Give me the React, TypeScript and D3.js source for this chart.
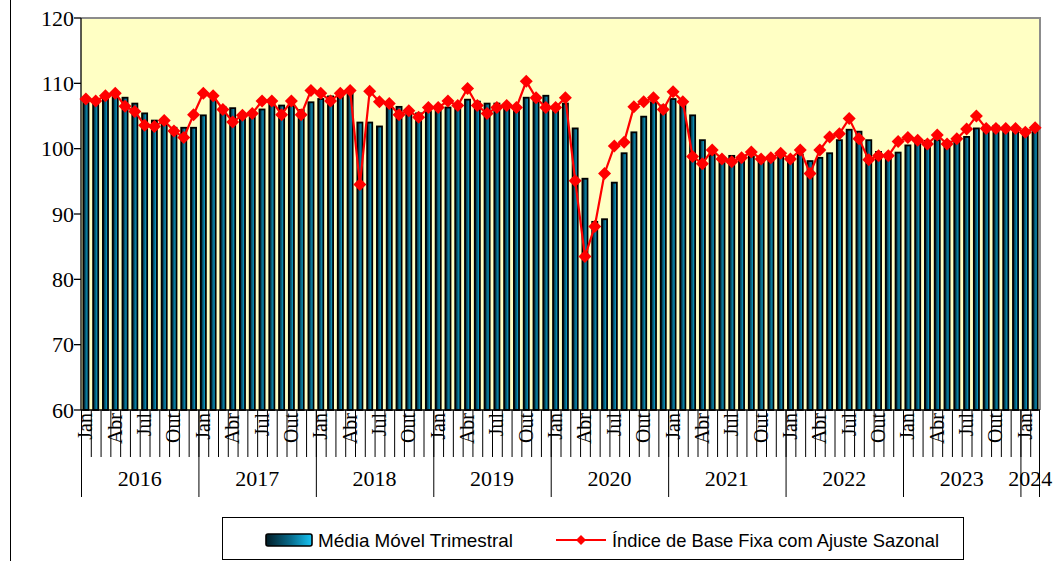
import React from 'react'
import * as d3 from 'd3'

const years = ['2016', '2017', '2018', '2019', '2020', '2021', '2022', '2023', '2024']
const monthNames = ['Jan', 'Fev', 'Mar', 'Abr', 'Mai', 'Jun', 'Jul', 'Ago', 'Set', 'Out', 'Nov', 'Dez']
const shownMonths = ['Jan', 'Abr', 'Jul', 'Out']
const yTicks = [60, 70, 80, 90, 100, 110, 120]

// Média Móvel Trimestral (barras)
const mediaMovel = [
  107.3, 107.0, 107.6, 108.0, 107.8, 106.9, 105.4, 104.3, 103.8, 103.2, 103.2, 103.2,
  105.1, 107.5, 106.4, 106.2, 105.1, 105.0, 106.0, 106.8, 106.6, 106.6, 105.9, 107.1,
  107.6, 108.0, 108.1, 108.5, 104.0, 104.0, 103.4, 106.4, 106.4, 106.0, 105.4, 105.7,
  106.0, 106.3, 106.4, 107.5, 107.2, 106.9, 106.9, 106.8, 106.2, 107.8, 107.4, 108.1,
  106.4, 106.9, 103.1, 95.4, 88.8, 89.2, 94.8, 99.3, 102.5, 104.9, 107.1, 106.6,
  107.6, 107.0, 105.1, 101.3, 99.1, 98.4, 98.9, 98.6, 98.8, 98.5, 98.6, 98.8,
  98.7, 99.1, 98.1, 98.6, 99.3, 101.3, 102.9, 102.6, 101.3, 99.5, 98.7, 99.4,
  100.5, 101.3, 101.2, 101.3, 101.1, 101.4, 101.8, 103.1, 103.4, 103.5, 103.1, 103.1,
  102.9, 102.9,
]

// Índice de Base Fixa com Ajuste Sazonal (linha)
const indiceAjustado = [
  107.6, 107.3, 108.1, 108.5, 106.5, 105.7, 103.6, 103.4, 104.3, 102.7, 101.7, 105.2,
  108.5, 108.1, 106.0, 104.1, 105.1, 105.4, 107.3, 107.3, 105.2, 107.3, 105.2, 108.9,
  108.5, 107.3, 108.5, 108.9, 94.5, 108.8, 107.2, 106.9, 105.2, 105.8, 104.8, 106.3,
  106.3, 107.3, 106.6, 109.2, 106.6, 105.4, 106.3, 106.6, 106.3, 110.3, 107.8, 106.3,
  106.3, 107.8, 95.1, 83.5, 88.1, 96.2, 100.4, 101.0, 106.4, 107.2, 107.8, 106.0,
  108.7, 107.2, 98.8, 97.7, 99.8, 98.4, 98.0, 98.6, 99.5, 98.4, 98.6, 99.3,
  98.4, 99.8, 96.2, 99.8, 101.8, 102.3, 104.6, 101.5, 98.3, 98.9, 98.9, 101.1,
  101.7, 101.3, 100.7, 102.1, 100.7, 101.5, 103.0, 105.0, 103.1, 103.1, 103.1, 103.1,
  102.5, 103.2,
]

const categories = mediaMovel.map((_, i) => ({
  key: `${years[Math.floor(i / 12)]}-${i % 12}`,
  year: years[Math.floor(i / 12)],
  month: monthNames[i % 12],
}))

const serif = '"Liberation Serif", "DejaVu Serif", serif'
const narrow = '"Liberation Sans Narrow", "Liberation Sans", Arial, sans-serif'

const App = () => {
  const width = 1055
  const height = 561
  const left = 81
  const right = 1040
  const top = 18
  const bottom = 410

  const x = d3
    .scaleBand()
    .domain(categories.map((c) => c.key))
    .range([left, right])
    .paddingInner(0)
    .paddingOuter(0)
  const bw = x.bandwidth()
  const y = d3.scaleLinear().domain([60, 120]).range([bottom, top])

  const line = d3
    .line<number>()
    .x((_, i) => (x(categories[i].key) as number) + bw / 2)
    .y((d) => y(d))

  const diamond = (cx: number, cy: number, r: number) =>
    `M${cx},${cy - r}L${cx + r},${cy}L${cx},${cy + r}L${cx - r},${cy}Z`

  const yearStarts = years.map((yr) => {
    const idx = categories.findIndex((c) => c.year === yr)
    const last = categories.length - 1 - [...categories].reverse().findIndex((c) => c.year === yr)
    return { yr, x0: x(categories[idx].key) as number, x1: (x(categories[last].key) as number) + bw }
  })

  const barW = bw * 0.52

  return (
    <svg
      width={width}
      height={height}
      style={{ position: 'absolute', left: 0, top: 0, background: '#fff' }}
    >
      <defs>
        <linearGradient id="barGrad" x1="0" y1="0" x2="1" y2="0">
          <stop offset="0%" stopColor="#021c26" />
          <stop offset="55%" stopColor="#086d8e" />
          <stop offset="100%" stopColor="#16c4f4" />
        </linearGradient>
      </defs>

      <line x1={10.5} x2={10.5} y1={0} y2={height} stroke="#000" strokeWidth={1} />

      <rect x={left} y={top} width={right - left} height={bottom - top} fill="#FFFFC4" />

      {mediaMovel.map((v, i) => (
        <rect
          key={categories[i].key}
          x={(x(categories[i].key) as number) + (bw - barW) / 2}
          y={y(v)}
          width={barW}
          height={bottom - y(v)}
          fill="url(#barGrad)"
          stroke="#000"
          strokeWidth={1.8}
        />
      ))}

      <path
        d={`M${left},${top}H${right}V${bottom}`}
        fill="none"
        stroke="#8c8c8c"
        strokeWidth={2}
      />

      {/* eixo y */}
      <line x1={left} x2={left} y1={top} y2={bottom} stroke="#000" strokeWidth={1.3} />
      {yTicks.map((t) => (
        <g key={t}>
          <line x1={left - 7} x2={left} y1={y(t)} y2={y(t)} stroke="#000" strokeWidth={1.3} />
          <text
            x={left - 7}
            y={y(t)}
            dy="0.35em"
            textAnchor="end"
            fontFamily={serif}
            fontSize={22}
            fill="#000"
          >
            {t}
          </text>
        </g>
      ))}

      {/* eixo x */}
      <line x1={left} x2={right} y1={bottom} y2={bottom} stroke="#000" strokeWidth={1.3} />
      {categories.map((c) => (
        <line
          key={`t${c.key}`}
          x1={(x(c.key) as number) + 0.5}
          x2={(x(c.key) as number) + 0.5}
          y1={bottom}
          y2={457}
          stroke="#000"
          strokeWidth={1}
        />
      ))}
      <line x1={right - 0.5} x2={right - 0.5} y1={bottom} y2={497} stroke="#000" strokeWidth={1} />
      {categories
        .filter((c) => shownMonths.includes(c.month))
        .map((c) => {
          const cx = (x(c.key) as number) + bw / 2 + 6.5
          return (
            <text
              key={`m${c.key}`}
              transform={`translate(${cx},${bottom + 3}) rotate(-90)`}
              textAnchor="end"
              fontFamily={serif}
              fontSize={20}
              fill="#000"
            >
              {c.month}
            </text>
          )
        })}
      {yearStarts.map((d) => (
        <g key={d.yr}>
          <line x1={d.x0 + 0.5} x2={d.x0 + 0.5} y1={bottom} y2={497} stroke="#000" strokeWidth={1} />
          <text
            x={(d.x0 + d.x1) / 2}
            y={486}
            textAnchor="middle"
            fontFamily={serif}
            fontSize={22}
            fill="#000"
          >
            {d.yr}
          </text>
        </g>
      ))}

      {/* linha */}
      <path d={line(indiceAjustado) || ''} fill="none" stroke="#ff0000" strokeWidth={2.2} />
      {indiceAjustado.map((v, i) => (
        <path
          key={`d${i}`}
          d={diamond((x(categories[i].key) as number) + bw / 2, y(v), 6.5)}
          fill="#ff0000"
        />
      ))}

      {/* legenda */}
      <rect x={222.5} y={517.5} width={741} height={42} fill="#fff" stroke="#000" strokeWidth={1} />
      <rect
        x={266}
        y={534}
        width={46}
        height={12}
        rx={2}
        fill="url(#barGrad)"
        stroke="#000"
        strokeWidth={1.6}
      />
      <text
        x={318}
        y={547}
        fontFamily={narrow}
        fontSize={19}
        textLength={195}
        lengthAdjust="spacingAndGlyphs"
        fill="#000"
      >
        Média Móvel Trimestral
      </text>
      <line x1={556} x2={606} y1={540} y2={540} stroke="#ff0000" strokeWidth={2.2} />
      <path d={diamond(581, 540, 5)} fill="#ff0000" />
      <text
        x={612}
        y={547}
        fontFamily={narrow}
        fontSize={19}
        textLength={327}
        lengthAdjust="spacingAndGlyphs"
        fill="#000"
      >
        Índice de Base Fixa com Ajuste Sazonal
      </text>
    </svg>
  )
}

export default App
